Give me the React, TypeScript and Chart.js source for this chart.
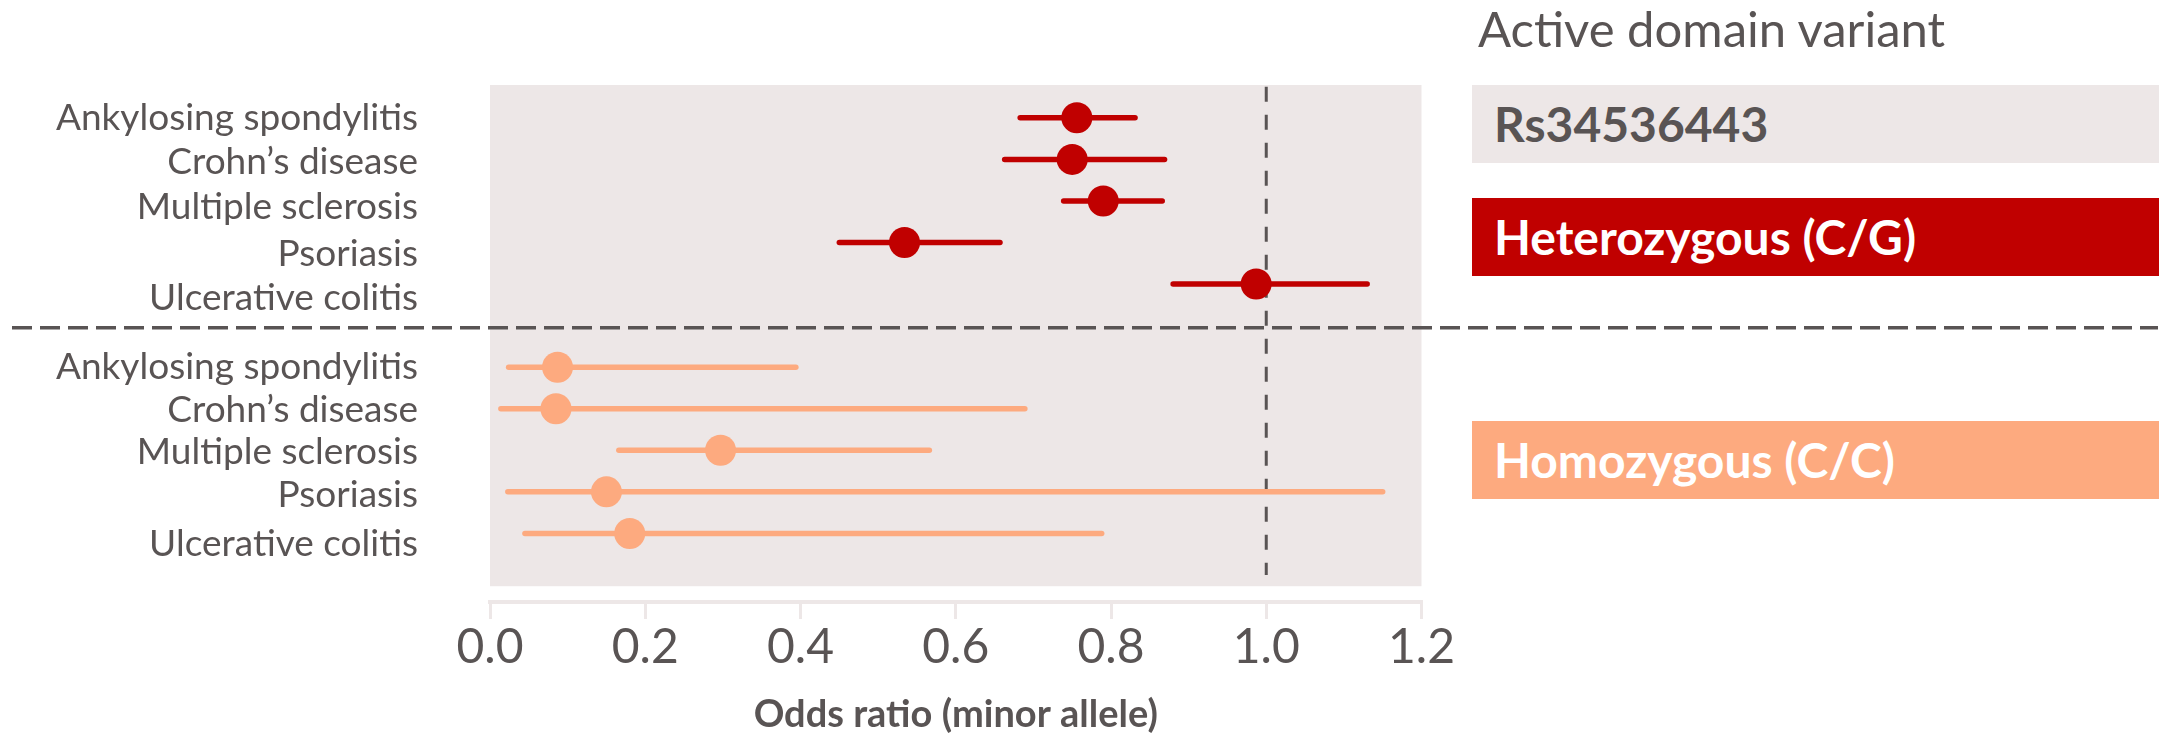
import React, { useEffect, useRef } from "react";
import { Chart, registerables } from "chart.js";

Chart.register(...registerables);

const categories = [
  "Ankylosing spondylitis",
  "Crohn’s disease",
  "Multiple sclerosis",
  "Psoriasis",
  "Ulcerative colitis",
];

// Heterozygous (C/G)
const hetOR = [0.756, 0.75, 0.79, 0.534, 0.987];
const hetLow = [0.683, 0.663, 0.739, 0.45, 0.88];
const hetHigh = [0.831, 0.869, 0.866, 0.657, 1.13];

// Homozygous (C/C)
const homOR = [0.087, 0.085, 0.297, 0.15, 0.18];
const homLow = [0.024, 0.014, 0.166, 0.023, 0.045];
const homHigh = [0.394, 0.689, 0.566, 1.15, 0.788];

const xTicks = [0, 0.2, 0.4, 0.6, 0.8, 1.0, 1.2];
const refLine = 1.0;

const RED = "#C00000";
const ORANGE = "#FDAA7F";
const BG = "#EDE7E7";
const TXT = "#595454";
const FONT = "Lato, 'Open Sans', sans-serif";

export default function App() {
  const ref = useRef<HTMLCanvasElement | null>(null);

  useEffect(() => {
    if (!ref.current) return;
    const hetRows = categories.map((_, i) => i);
    const homRows = categories.map((_, i) => i + categories.length + 1);
    const allLabels = [...categories, ...categories];
    const sepValue = categories.length + 0.05;
    // label slots on the y scale (the original's text rows are spaced slightly apart from the marks)
    const labelSlots = [0, 1.06, 2.14, 3.27, 4.33, 6.0, 7.03, 8.04, 9.07, 10.25];

    const bgPlugin = {
      id: "bgArea",
      beforeDatasetsDraw(chart: any) {
        const { ctx, chartArea, scales } = chart;
        const bottom = scales.y.getPixelForValue(11.27);
        ctx.save();
        ctx.fillStyle = BG;
        ctx.fillRect(chartArea.left, chartArea.top, chartArea.right - chartArea.left, bottom - chartArea.top);
        ctx.restore();
      },
      afterDatasetsDraw(chart: any) {
        const { ctx, scales } = chart;
        const y = scales.y.getPixelForValue(sepValue);
        ctx.save();
        ctx.strokeStyle = TXT;
        ctx.lineWidth = 3.5;
        ctx.setLineDash([20, 8]);
        ctx.beginPath();
        ctx.moveTo(12, y);
        ctx.lineTo(2158, y);
        ctx.stroke();
        ctx.restore();
      },
    };

    const barSets: any[] = [];
    hetRows.forEach((r, i) => {
      barSets.push({
        type: "line",
        data: [
          { x: hetLow[i], y: r },
          { x: hetHigh[i], y: r },
        ],
        borderColor: RED,
        borderWidth: 5.5,
        borderCapStyle: "round",
        pointRadius: 0,
        order: 2,
      });
    });
    homRows.forEach((r, i) => {
      barSets.push({
        type: "line",
        data: [
          { x: homLow[i], y: r },
          { x: homHigh[i], y: r },
        ],
        borderColor: ORANGE,
        borderWidth: 5.5,
        borderCapStyle: "round",
        pointRadius: 0,
        order: 2,
      });
    });

    const chart = new Chart(ref.current, {
      type: "line",
      data: {
        datasets: [
          {
            type: "line",
            data: [
              { x: refLine, y: -0.75 },
              { x: refLine, y: 11.0 },
            ],
            borderColor: TXT,
            borderWidth: 3,
            borderDash: [15, 13],
            pointRadius: 0,
            order: 3,
            clip: false as any,
          },
          ...barSets,
          {
            type: "line",
            data: hetRows.map((r, i) => ({ x: hetOR[i], y: r })),
            showLine: false,
            pointRadius: 15.5,
            pointBorderWidth: 0,
            pointBackgroundColor: RED,
            pointBorderColor: RED,
            order: 1,
          },
          {
            type: "line",
            data: homRows.map((r, i) => ({ x: homOR[i], y: r })),
            showLine: false,
            pointRadius: 15.5,
            pointBorderWidth: 0,
            pointBackgroundColor: ORANGE,
            pointBorderColor: ORANGE,
            order: 1,
          },
        ] as any,
      },
      options: {
        animation: false,
        responsive: false,
        events: [],
        layout: { padding: { left: 0, top: 85, right: 752.5, bottom: 0 } },
        plugins: {
          legend: { display: false },
          tooltip: { enabled: false },
        },
        scales: {
          x: {
            type: "linear",
            position: "bottom",
            min: 0,
            max: 1.2,
            afterBuildTicks: (s: any) => {
              s.ticks = xTicks.map((v) => ({ value: v }));
            },
            afterFit: (s: any) => {
              s.height = 136;
              s.paddingLeft = 0;
              s.paddingRight = 0;
            },
            ticks: {
              callback: (v: any) => Number(v).toFixed(1),
              font: { family: FONT, size: 48 },
              color: TXT,
              padding: 0,
              maxRotation: 0,
              autoSkip: false,
            },
            grid: {
              drawOnChartArea: false,
              drawTicks: true,
              tickLength: 17,
              color: BG,
              lineWidth: 3,
            },
            border: { display: true, color: BG, width: 4 },
            title: {
              display: true,
              text: "Odds ratio (minor allele)",
              font: { family: FONT, size: 38, weight: "bold" },
              color: TXT,
              padding: { top: 0, bottom: 0 },
            },
          },
          y: {
            type: "linear",
            reverse: true,
            min: -0.79,
            max: 11.65,
            afterBuildTicks: (s: any) => {
              s.ticks = labelSlots.map((v) => ({ value: v }));
            },
            afterFit: (s: any) => {
              s.width = 490;
              s.paddingTop = 0;
              s.paddingBottom = 0;
            },
            ticks: {
              callback: (_v: any, idx: number) => allLabels[idx],
              font: { family: FONT, size: 37 },
              color: TXT,
              padding: 72,
              autoSkip: false,
            },
            grid: { display: false, drawTicks: false },
            border: { display: false },
          },
        },
      } as any,
      plugins: [bgPlugin],
    });
    return () => chart.destroy();
  }, []);

  const boxBase: React.CSSProperties = {
    position: "absolute",
    left: 1472,
    width: 687,
    height: 78,
    display: "flex",
    alignItems: "center",
    paddingLeft: 22,
    boxSizing: "border-box",
    fontFamily: FONT,
    fontWeight: "bold",
    fontSize: 48,
    lineHeight: 1,
    whiteSpace: "nowrap",
  };

  return (
    <div style={{ position: "absolute", left: 0, top: 0, width: 2174, height: 738, background: "#fff" }}>
      <canvas ref={ref} width={2174} height={738} style={{ position: "absolute", left: 0, top: 0, width: 2174, height: 738 }} />
      <div
        style={{
          position: "absolute",
          left: 1478,
          top: 0,
          height: 56,
          display: "flex",
          alignItems: "center",
          fontFamily: FONT,
          fontSize: 49,
          color: TXT,
          lineHeight: 1,
          whiteSpace: "nowrap",
        }}
      >
        Active domain variant
      </div>
      <div style={{ ...boxBase, top: 85, background: BG, color: TXT }}>Rs34536443</div>
      <div style={{ ...boxBase, top: 198, background: RED, color: "#fff" }}>Heterozygous (C/G)</div>
      <div style={{ ...boxBase, top: 421, background: ORANGE, color: "#fff" }}>Homozygous (C/C)</div>
    </div>
  );
}
